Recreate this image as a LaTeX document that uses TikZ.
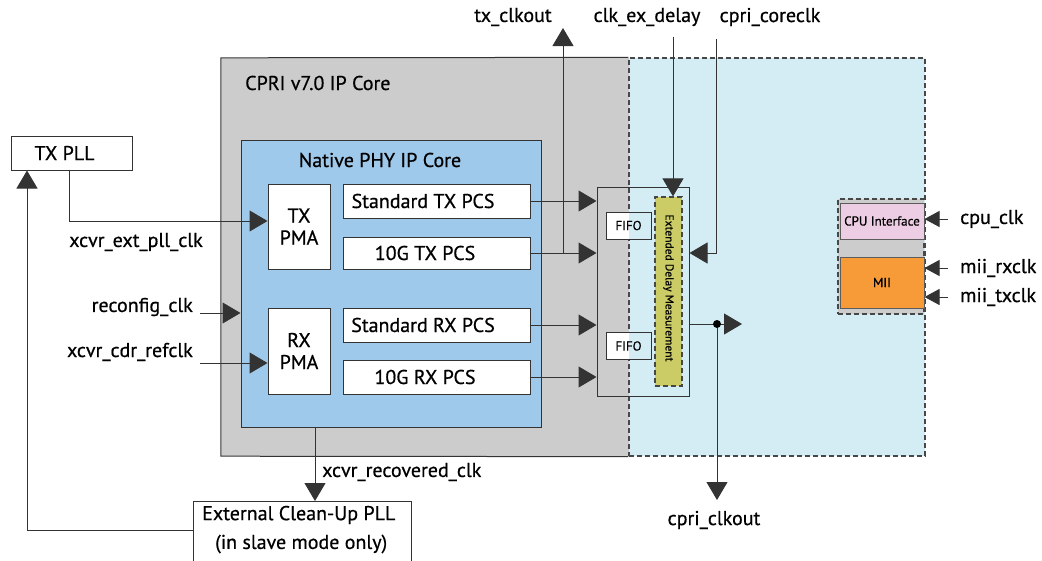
\documentclass[tikz,border=0pt]{standalone}
\usepackage{fontspec}
\setmainfont{PT Sans}[FakeBold=0.6]
\usetikzlibrary{arrows.meta}
\definecolor{cgrey}{HTML}{CCCCCC}
\definecolor{cphy}{HTML}{9FC9EA}
\definecolor{cblue}{HTML}{D4ECF3}
\definecolor{cyel}{HTML}{CCCC66}
\definecolor{cpink}{HTML}{EDCDE3}
\definecolor{corange}{HTML}{F79A38}
\definecolor{cline}{HTML}{333333}
\begin{document}
\begin{tikzpicture}[x=1pt,y=-1pt,
  font=\fontsize{20}{22}\selectfont,
  box/.style={draw=cline, line width=1pt, fill=white, inner sep=0pt},
  lbl/.style={inner sep=0pt},
  arr/.style={draw=cline, line width=1pt, -{Triangle[length=18pt,width=21pt]}},
  sarr/.style={draw=cline, line width=1pt, -{Triangle[length=15pt,width=16pt]}},
  dsh/.style={draw=cline!90, line width=1.3pt, dash pattern=on 5pt off 3pt},
  smallfont/.style={font=\fontsize{13}{15}\selectfont},
]
\useasboundingbox (0,0) rectangle (1042,560);
\clip (0,0) rectangle (1042,560);
\fill[white] (0,0) rectangle (1042,560);

% main core area
\node[fill=cgrey, inner sep=0pt, minimum width=704pt, minimum height=398pt] (core) at (573,257) {};
\node[fill=cblue, dsh, inner sep=0pt, minimum width=296pt, minimum height=398pt] (blue) at (777,257) {};
\draw[cline, line width=1pt] (blue.north west) -- (core.north west) -- (core.south west) -- (blue.south west);
\node[lbl, anchor=west] (corelbl) at (245,83) {CPRI v7.0 IP Core};

% Native PHY
\node[draw=cline, line width=1pt, fill=cphy, inner sep=0pt, minimum width=300pt, minimum height=287pt] (phy) at (391,283.5) {};
\node[lbl] (phylbl) at (380,160) {Native PHY IP Core};
\node[box, minimum width=62pt, minimum height=85pt, align=center] (txpma) at (299,226.5) {TX\\PMA};
\node[box, minimum width=62pt, minimum height=86pt, align=center] (rxpma) at (299,351) {RX\\PMA};
\node[box, minimum width=187pt, minimum height=34pt] (stdtx) at (436.5,201) {};
\node[lbl] at (423,201) {Standard TX PCS};
\node[box, minimum width=187pt, minimum height=32pt] (tgtx) at (436.5,253) {};
\node[lbl] at (425,253) {10G TX PCS};
\node[box, minimum width=187pt, minimum height=34pt] (stdrx) at (436.5,325) {};
\node[lbl] at (423,325) {Standard RX PCS};
\node[box, minimum width=187pt, minimum height=34pt] (tgrx) at (436.5,377) {};
\node[lbl] at (425,377) {10G RX PCS};

% delay block
\coordinate (splitx) at (629,0);
\node[draw=cline, line width=1pt, inner sep=0pt, minimum width=92pt, minimum height=209pt] (delay) at (643,291.5) {};
\tikzset{fifo/.style={box, smallfont, minimum width=45pt, minimum height=27pt,
  path picture={\fill[cblue] (splitx |- path picture bounding box.north) rectangle (path picture bounding box.south east);}}}
\node[fifo] (fifo1) at (628.5,225.5) {FIFO};
\node[fifo] (fifo2) at (628.5,346) {FIFO};
\node[fill=cyel, dsh, inner sep=0pt, minimum width=27pt, minimum height=189pt] (edm) at (668.5,291.5) {};
\node[lbl, font=\fontsize{11.5}{13}\selectfont, rotate=-90] (edmlbl) at (668.5,288) {Extended Delay Measurement};

% right module
\node[fill=cgrey, dsh, inner sep=0pt, minimum width=86pt, minimum height=115pt] (mod) at (881,256.5) {};
\node[draw=cline!80, line width=1pt, fill=cpink, inner sep=0pt, minimum width=84pt, minimum height=36pt, font=\fontsize{13}{15}\selectfont] (cpu) at (882,221) {CPU Interface};
\node[draw=cline!80, line width=1pt, fill=corange, inner sep=0pt, minimum width=84pt, minimum height=51pt, font=\fontsize{13}{15}\selectfont] (mii) at (882,282.5) {MII};

% external boxes
\node[box, minimum width=121pt, minimum height=34pt] (txpll) at (71.5,153) {\hspace*{-14pt}TX PLL};
\node[box, minimum width=218pt, minimum height=70pt, anchor=north west] (cup) at (193,501) {};
\node[lbl, anchor=west] (cup1) at (202,515) {External Clean-Up PLL};
\node[lbl, anchor=west] (cup2) at (215,544) {(in slave mode only)};

% labels
\node[lbl] (ltxclkout) at (513,17) {tx\_clkout};
\node[lbl] (lcked) at (647,17) {clk\_ex\_delay};
\node[lbl] (lcore) at (770,17) {cpri\_coreclk};
\node[lbl] (lextpll) at (136,242) {xcvr\_ext\_pll\_clk};
\node[lbl, anchor=east] (lreconf) at (193,307) {reconfig\_clk};
\node[lbl, anchor=east] (lcdr) at (193,352) {xcvr\_cdr\_refclk};
\node[lbl, anchor=west] (lrec) at (322,472) {xcvr\_recovered\_clk};
\node[lbl, anchor=west] (lcpu) at (960,219) {cpu\_clk};
\node[lbl, anchor=west] (lmiirx) at (960,268) {mii\_rxclk};
\node[lbl, anchor=west] (lmiitx) at (960,297) {mii\_txclk};
\node[lbl] (lclkout) at (714,520) {cpri\_clkout};

% coordinates for free ends
\coordinate (cpll) at (69,0);
\coordinate (crec) at (315,0);
\coordinate (cfb) at (27,530);
\coordinate (creconf) at (200,313);
\coordinate (ccdr) at (200,363);
\coordinate (ctxo) at (563,28);
\coordinate (cked) at (673,37);
\coordinate (ccore) at (716,39);
\coordinate (cout) at (742,324);
\coordinate (cdot) at (717,324);
\coordinate (cclk) at (717,500);
\coordinate (ccpu) at (948,219);
\coordinate (cmrx) at (948,268);
\coordinate (cmtx) at (948,297);

% connectors
\draw[arr] (txpll.south -| cpll) |- ([yshift=5.5pt]txpma.west);
\draw[arr] (creconf) -- (creconf -| phy.west);
\draw[arr] (ccdr) -- (ccdr -| rxpma.west);
\draw[arr] (stdtx.east) -- (stdtx.east -| delay.west);
\draw[arr] (tgtx.east) -- (tgtx.east -| delay.west);
\draw[arr] (stdrx.east) -- (stdrx.east -| delay.west);
\draw[arr] (tgrx.east) -- (tgrx.east -| delay.west);
\draw[arr] (tgtx.east -| ctxo) -- (ctxo);
\draw[arr] (cked) -- (cked |- edm.north);
\draw[arr] (ccore) |- (delay.east |- tgtx.east);
\draw[arr] (delay.east |- cout) -- (cout);
\draw[arr] (cdot) -- (cclk);
\fill[black] (cdot) circle (4pt);
\draw[sarr] (ccpu) -- (ccpu -| cpu.east);
\draw[sarr] (cmrx) -- (cmrx -| mii.east);
\draw[sarr] (cmtx) -- (cmtx -| mii.east);
\draw[arr] (phy.south -| crec) -- (cup.north -| crec);
\draw[arr] (cup.west |- cfb) -| (txpll.south -| cfb);
\end{tikzpicture}
\end{document}
